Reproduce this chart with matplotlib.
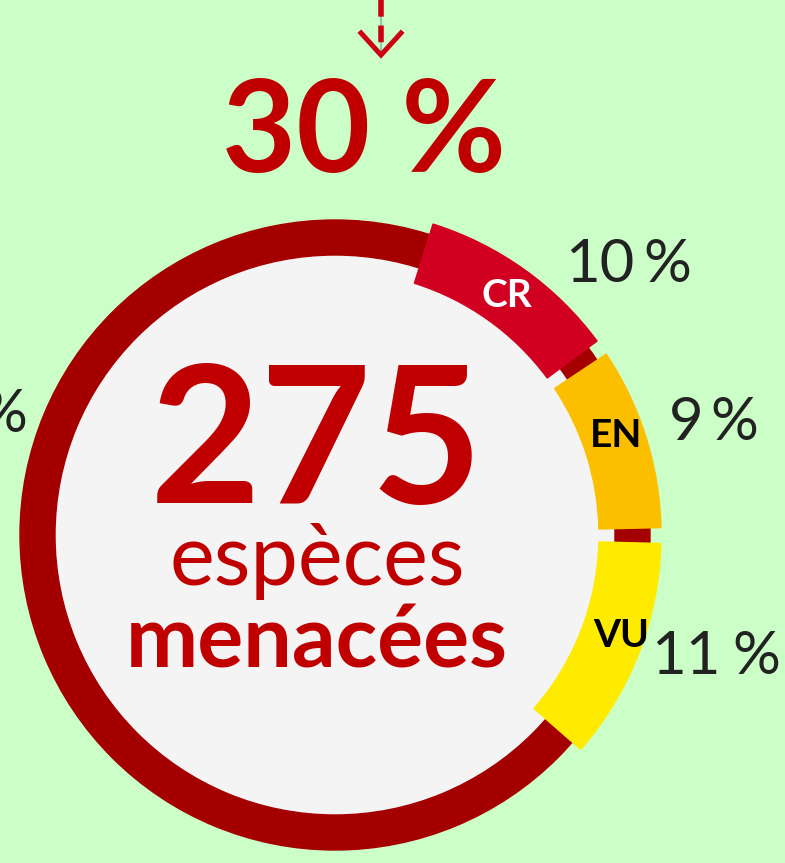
import matplotlib.pyplot as plt
from matplotlib.patches import Wedge, Circle
import numpy as np

plt.rcParams['font.family'] = ['Lato', 'DejaVu Sans']

# donnees
categories = ["CR", "EN", "VU"]
pourcentages = [10, 9, 11]
couleurs = ["#d20020", "#fcbf00", "#ffeb00"]
couleurs_txt = ["white", "black", "black"]
total_especes = 275
total_pct = 30

W, H = 785, 863
fig = plt.figure(figsize=(W / 100, H / 100), dpi=100)
fig.patch.set_facecolor("#ccffc8")
ax = fig.add_axes([0, 0, 1, 1])
ax.set_xlim(0, W)
ax.set_ylim(H, 0)
ax.axis("off")

cx, cy = 335, 535
# fond + anneau
ax.add_patch(Circle((cx, cy), 281, color="#f4f4f4", zorder=1))
ax.add_patch(Wedge((cx, cy), 315, 0, 360, width=35, color="#a40000", zorder=2))

# segments (angle horaire depuis le haut -> theta = a - 90 avec axe y inverse)
debut, ecart = 17.5, 2.8
lab_pos = [(507, 307), (616, 447), (621, 647)]
# (x fin nombre, x fin %, ligne de base)
pct_pos = [(634, 691, 282), (703, 758, 440), (721, 780, 674)]
a = debut
for cat, p, c, tc, lp, pp in zip(categories, pourcentages, couleurs, couleurs_txt, lab_pos, pct_pos):
    span = p * 3.6
    ax.add_patch(Wedge((cx, cy), 326, a - 90, a + span - 90, width=62, color=c, zorder=3))
    ax.text(lp[0], lp[1], cat, color=tc, fontsize=28, fontweight="bold",
            ha="center", va="baseline", zorder=4)
    ax.text(pp[0], pp[2], str(p), color="#222222", fontsize=43,
            ha="right", va="baseline", zorder=4)
    ax.text(pp[1], pp[2], "%", color="#222222", fontsize=43,
            ha="right", va="baseline", zorder=4)
    a += span + ecart

# % coupe a gauche
ax.text(27, 432, "%", color="#222222", fontsize=43, ha="right", va="baseline")

# texte central
ax.text(316, 503, str(total_especes), color="#c00000", fontsize=138,
        fontweight="bold", ha="center", va="baseline", zorder=5)
ax.text(317, 585, "espèces", color="#c00000", fontsize=61,
        ha="center", va="baseline", zorder=5)
ax.text(317, 667, "menacées", color="#c00000", fontsize=62, fontweight="bold",
        ha="center", va="baseline", zorder=5)

# titre + fleche
ax.text(364, 172, "{} %".format(total_pct), color="#c00000", fontsize=92,
        fontweight="bold", ha="center", va="baseline")
ax.plot([381, 381], [0, 52], color="#7ac0a8", lw=1.2, zorder=6)
ax.plot([381, 381], [0, 52], color="#cc0010", lw=4, dashes=(3, 1.6), zorder=7)
ax.plot([361, 381, 401], [33, 55, 33], color="#cc0010", lw=3.6, zorder=7,
        solid_joinstyle="miter")

fig.savefig("out.png", dpi=100, facecolor=fig.get_facecolor())
